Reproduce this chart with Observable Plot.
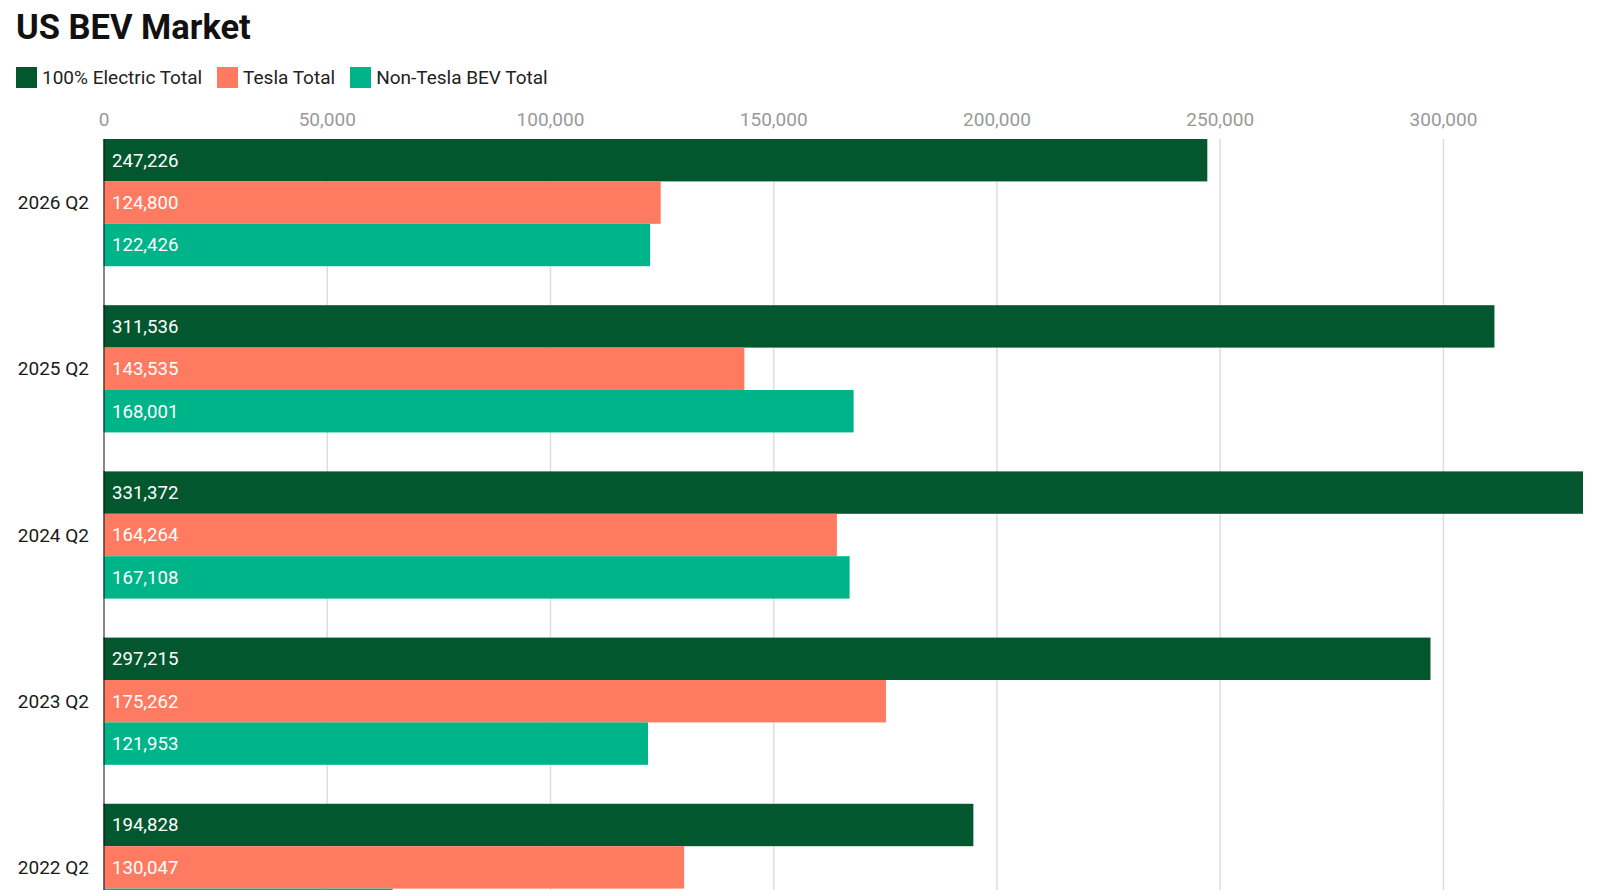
<!DOCTYPE html>
<html>
<head>
<meta charset="utf-8">
<script src="https://cdn.jsdelivr.net/npm/d3@7"></script>
<script src="https://cdn.jsdelivr.net/npm/@observablehq/plot@0.6"></script>
<style>
  html, body { margin: 0; padding: 0; background: #fff; overflow: hidden; }
  body { width: 1600px; height: 890px; font-family: Roboto, "Noto Sans", sans-serif; }
  #header { position: relative; height: 99px; }
  #title { position: absolute; left: 16px; top: 10px; font-size: 34.5px; line-height: 35px; font-weight: 700; color: #111; margin: 0; }
  #legend { position: absolute; left: 16px; top: 67px; height: 21px; display: flex; align-items: center; font-size: 19px; color: #222; }
  .item { display: flex; align-items: center; margin-right: 15px; }
  .sw { width: 21px; height: 21px; margin-right: 5px; box-sizing: border-box; }
  #chart svg { display: block; }
</style>
</head>
<body>
<div id="header">
  <h1 id="title">US BEV Market</h1>
  <div id="legend"></div>
</div>
<div id="chart"></div>
<script>
const quarters = ["2026 Q2", "2025 Q2", "2024 Q2", "2023 Q2", "2022 Q2"];
const series = ["100% Electric Total", "Tesla Total", "Non-Tesla BEV Total"];
const electricTotal = [247226, 311536, 331372, 297215, 194828];
const teslaTotal = [124800, 143535, 164264, 175262, 130047];
const nonTeslaTotal = [122426, 168001, 167108, 121953, 64781];
const colors = ["#03572f", "#fe7b62", "#00b48a"];
const xTicks = [0, 50000, 100000, 150000, 200000, 250000, 300000];

const valuesBySeries = [electricTotal, teslaTotal, nonTeslaTotal];
const rows = [];
quarters.forEach((q, i) => {
  series.forEach((s, j) => {
    rows.push({quarter: q, series: s, value: valuesBySeries[j][i]});
  });
});

// legend
const legend = document.getElementById("legend");
series.forEach((s, j) => {
  const item = document.createElement("div");
  item.className = "item";
  const sw = document.createElement("span");
  sw.className = "sw";
  sw.style.background = colors[j];
  const t = document.createElement("span");
  t.textContent = s;
  item.appendChild(sw);
  item.appendChild(t);
  legend.appendChild(item);
});

const fmt = d3.format(",");

const chart = Plot.plot({
  width: 1600,
  height: 832,
  marginTop: 40,
  marginLeft: 103.5,
  marginRight: 17,
  marginBottom: 0,
  style: {fontFamily: "Roboto, 'Noto Sans', sans-serif", fontSize: "19px", background: "#fff"},
  x: {domain: [0, d3.max(electricTotal)], axis: null},
  y: {domain: series, padding: 0, axis: null, round: false},
  fy: {domain: quarters, paddingInner: 0.2345, paddingOuter: 0, axis: null, label: null, round: false},
  color: {domain: series, range: colors},
  marks: [
    Plot.ruleX(xTicks.slice(1), {stroke: "#dedede", strokeWidth: 1.5, insetBottom: -40}),
    Plot.barX(rows, {fy: "quarter", y: "series", x: "value", fill: "series"}),
    Plot.text(rows, {fy: "quarter", y: "series", text: d => fmt(d.value), frameAnchor: "left", dx: 8, textAnchor: "start", fill: "white", fontSize: 18.6}),
    Plot.ruleX([0], {stroke: "#111", strokeWidth: 1, insetBottom: -40}),
    Plot.axisX(xTicks, {anchor: "top", tickSize: 0, tickPadding: 14, tickFormat: fmt, fill: "#999", fontSize: 19, label: null}),
    Plot.axisFy({anchor: "left", tickSize: 0, tickPadding: 15, fill: "#1a1a1a", fontSize: 19, label: null})
  ]
});
document.getElementById("chart").appendChild(chart);
</script>
</body>
</html>
